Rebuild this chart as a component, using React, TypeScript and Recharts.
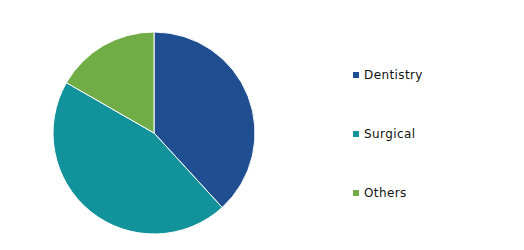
import { PieChart, Pie, Cell, Legend } from 'recharts'

const categories = ['Dentistry', 'Surgical', 'Others']
const shares = [38.2, 45.1, 16.7]
const colors = ['#1f4e91', '#12929b', '#70ad47']

const data = categories.map((name, i) => ({ name, value: shares[i] }))

// ─── Legend ───────────────────────────────────────────────────────────────────

function SideLegend() {
  return (
    <div style={{ fontFamily: '"DejaVu Sans", Verdana, sans-serif', fontSize: 12, color: '#111', letterSpacing: 0.4 }}>
      {categories.map((name, i) => (
        <div key={name} style={{ height: 59, display: 'flex', alignItems: 'center' }}>
          <span
            style={{
              display: 'inline-block',
              width: 6,
              height: 6,
              background: colors[i],
              marginRight: 5,
            }}
          />
          <span>{name}</span>
        </div>
      ))}
    </div>
  )
}

export default function App() {
  return (
    <div style={{ position: 'absolute', left: 0, top: 0, width: 524, height: 250, background: '#fff' }}>
      <PieChart width={524} height={250} margin={{ top: 0, right: 0, bottom: 0, left: 0 }}>
        <Pie
          data={data}
          dataKey="value"
          nameKey="name"
          cx={154}
          cy={133}
          outerRadius={101}
          startAngle={90}
          endAngle={-270}
          stroke="#ffffff"
          strokeWidth={1}
          isAnimationActive={false}
        >
          {data.map((d, i) => (
            <Cell key={d.name} fill={colors[i]} />
          ))}
        </Pie>
        <Legend
          content={<SideLegend />}
          wrapperStyle={{ position: 'absolute', left: 353, top: 45, width: 150 }}
        />
      </PieChart>
    </div>
  )
}
